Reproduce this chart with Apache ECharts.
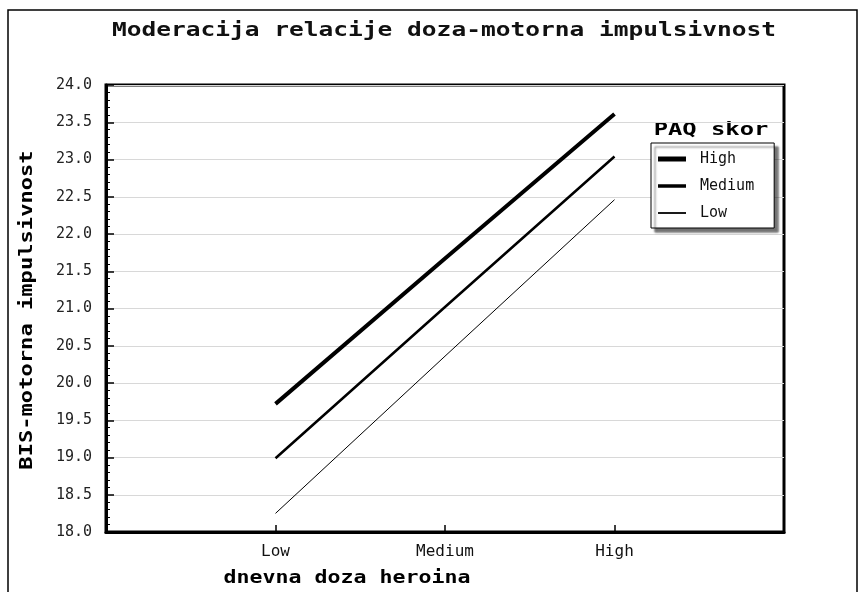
<!DOCTYPE html>
<html>
<head>
<meta charset="utf-8">
<script src="https://cdn.jsdelivr.net/npm/echarts@6/dist/echarts.min.js"></script>
<style>html,body{margin:0;padding:0;background:#fff}#c{width:864px;height:592px}</style>
</head>
<body>
<div id="c"></div>
<script>
const categories = ['Low', 'Medium', 'High'];
const seriesNames = ['High', 'Medium', 'Low'];
const highValues = [19.72, 21.67, 23.61];
const mediumValues = [18.99, 21.02, 23.04];
const lowValues = [18.25, 20.36, 22.46];
const yTicks = ['18.0','18.5','19.0','19.5','20.0','20.5','21.0','21.5','22.0','22.5','23.0','23.5','24.0'];

const MONO = '"DejaVu Sans Mono", "Liberation Mono", monospace';
const widths = [4, 2.5, 1];
const legendIcons = ['path://M0,0H28V5H0Z', 'path://M0,0H28V3.5H0Z', 'path://M0,0H28V1.8H0Z'];
const valueSets = [highValues, mediumValues, lowValues];

const chart = echarts.init(document.getElementById('c'), null, {renderer: 'canvas'});
const option = {
  backgroundColor: '#fff',
  animation: false,
  grid: {left: 106, top: 85, right: 80, bottom: 60, show: true, borderColor: '#000', borderWidth: 3, backgroundColor: 'transparent'},
  xAxis: {
    type: 'value', min: 0, max: categories.length + 1, interval: 1,
    axisLine: {show: true, lineStyle: {color: '#000', width: 3}},
    axisTick: {inside: true, length: 7, lineStyle: {color: '#000', width: 1.5}},
    splitLine: {show: false},
    axisLabel: {
      fontFamily: MONO, fontSize: 16, color: '#111', margin: 12,
      formatter: v => categories[v - 1] || ''
    }
  },
  yAxis: {
    type: 'value', min: 18, max: 24, interval: 0.5,
    axisLine: {show: true, lineStyle: {color: '#000', width: 3}},
    axisTick: {inside: true, length: 8, lineStyle: {color: '#000', width: 1.5}},
    minorTick: {show: true, splitNumber: 5, length: 4, lineStyle: {color: '#000', width: 1}},
    splitLine: {show: true, lineStyle: {color: '#d8d8d8', width: 1}},
    axisLabel: {
      fontFamily: MONO, fontSize: 15, color: '#222', margin: 14,
      formatter: v => yTicks[Math.round((v - 18) / 0.5)]
    }
  },
  legend: {
    data: seriesNames.map((n, i) => ({name: n, icon: legendIcons[i]})),
    orient: 'vertical',
    left: 651, top: 143,
    padding: [8, 20, 7, 7],
    itemWidth: 28, itemHeight: 10, itemGap: 11,
    symbolKeepAspect: true,
    itemStyle: {color: '#000'},
    backgroundColor: '#fff', borderColor: '#000', borderWidth: 1,
    shadowColor: 'rgba(0,0,0,0.55)', shadowOffsetX: 4, shadowOffsetY: 4, shadowBlur: 2,
    textStyle: {fontFamily: MONO, fontSize: 15, color: '#111', lineHeight: 16, padding: [0, 0, 0, 9]}
  },
  graphic: [
    {type: 'rect', silent: true, shape: {x: 8, y: 10, width: 849, height: 620},
      style: {fill: 'none', stroke: '#000', lineWidth: 1.5}},
    {type: 'text', x: 444, y: 31, scaleX: 1.29, style: {text: 'Moderacija relacije doza-motorna impulsivnost',
      font: 'bold 19px ' + MONO, fill: '#111', textAlign: 'center', textVerticalAlign: 'middle'}},
    {type: 'text', x: 711, y: 131, scaleX: 1.4, style: {text: 'PAQ skor',
      font: 'bold 17px ' + MONO, fill: '#000', textAlign: 'center', textVerticalAlign: 'middle'}},
    {type: 'text', x: 28, y: 310, rotation: Math.PI / 2, scaleX: 1.3, style: {text: 'BIS-motorna impulsivnost',
      font: 'bold 17px ' + MONO, fill: '#000', textAlign: 'center', textVerticalAlign: 'middle'}},
    {type: 'text', x: 347, y: 579, scaleX: 1.27, style: {text: 'dnevna doza heroina',
      font: 'bold 17px ' + MONO, fill: '#000', textAlign: 'center', textVerticalAlign: 'middle'}}
  ],
  series: seriesNames.map((name, i) => ({
    name: name,
    type: 'line',
    symbol: 'none',
    showSymbol: false,
    data: valueSets[i].map((v, j) => [j + 1, v]),
    lineStyle: {color: '#000', width: widths[i]},
    itemStyle: {color: '#000'},
    z: 3
  }))
};
chart.setOption(option);
</script>
</body>
</html>
